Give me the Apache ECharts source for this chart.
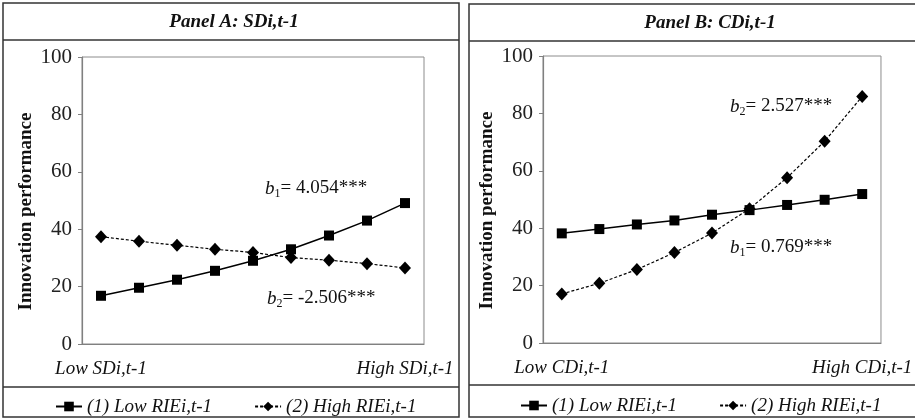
<!DOCTYPE html>
<html>
<head>
<meta charset="utf-8">
<script src="https://cdn.jsdelivr.net/npm/echarts@6/dist/echarts.min.js"></script>
<style>
  html, body { margin: 0; padding: 0; background: #fff; }
  #chart { width: 915px; height: 419px; }
</style>
</head>
<body>
<div id="chart"></div>
<script>
// x categories (only ends are labelled)
let catsA = ['Low SDi,t-1', '', '', '', '', '', '', '', 'High SDi,t-1'];
let catsB = ['Low CDi,t-1', '', '', '', '', '', '', '', 'High CDi,t-1'];

// Panel A values
let lowA = [16.8, 19.6, 22.4, 25.5, 29.0, 33.0, 37.8, 43.0, 49.1];
let highA = [37.4, 35.8, 34.4, 33.0, 31.9, 30.1, 29.2, 28.0, 26.5];

// Panel B values
let lowB = [38.2, 39.7, 41.3, 42.7, 44.7, 46.3, 48.1, 49.9, 51.9];
let highB = [17.1, 20.8, 25.6, 31.5, 38.3, 46.8, 57.6, 70.3, 85.9];

let yTicks = [0, 20, 40, 60, 80, 100];

let nameLow = '(1) Low RIEi,t-1';
let nameHigh = '(2) High RIEi,t-1';

let serif = '"Liberation Serif", "DejaVu Serif", serif';

let myChart = echarts.init(document.getElementById('chart'), null, { renderer: 'canvas' });

function makeX(idx, cats) {
    return {
        type: 'category',
        gridIndex: idx,
        data: cats,
        boundaryGap: true,
        axisLine: { lineStyle: { color: '#808080', width: 1.2 } },
        axisTick: { show: false },
        splitLine: { show: false },
        axisLabel: {
            interval: 0,
            margin: 15,
            color: '#111',
            fontFamily: serif,
            fontStyle: 'italic',
            fontSize: 19
        }
    };
}

function makeY(idx) {
    return {
        type: 'value',
        gridIndex: idx,
        min: yTicks[0],
        max: yTicks[yTicks.length - 1],
        interval: yTicks[1] - yTicks[0],
        name: 'Innovation performance',
        nameLocation: 'middle',
        nameGap: 46,
        nameTextStyle: {
            color: '#111',
            fontFamily: serif,
            fontWeight: 'bold',
            fontSize: 19,
            padding: [0, 22, 0, 0]   // nudges the rotated name a little lower
        },
        axisLine: { show: true, lineStyle: { color: '#808080', width: 1.2 } },
        axisTick: { show: true, length: 4, lineStyle: { color: '#808080' } },
        splitLine: { show: false },
        axisLabel: {
            margin: 10,
            color: '#222',
            fontFamily: serif,
            fontSize: 21
        }
    };
}

function lowSeries(idx, data) {
    return {
        name: nameLow,
        type: 'line',
        xAxisIndex: idx,
        yAxisIndex: idx,
        data: data,
        symbol: 'rect',
        symbolSize: 10,
        color: '#000',
        lineStyle: { color: '#000', width: 1.5, type: 'solid' },
        itemStyle: { color: '#000' }
    };
}

function highSeries(idx, data) {
    return {
        name: nameHigh,
        type: 'line',
        xAxisIndex: idx,
        yAxisIndex: idx,
        data: data,
        symbol: 'diamond',
        symbolSize: [12, 13],
        color: '#000',
        lineStyle: { color: '#000', width: 1.2, type: [3, 2] },
        itemStyle: { color: '#000' }
    };
}

function legendAt(left, top) {
    return {
        left: left,
        top: top,
        itemWidth: 26,
        itemHeight: 12,
        itemGap: 42,
        data: [nameLow, nameHigh],
        selectedMode: false,
        textStyle: {
            color: '#111',
            fontFamily: serif,
            fontStyle: 'italic',
            fontSize: 19
        }
    };
}

// b-coefficient text with subscript
function bText(sub, rest, left, top) {
    return {
        type: 'text',
        left: left,
        top: top,
        style: {
            text: '{b|b}{s|' + sub + '}{n|= ' + rest + '}',
            rich: {
                b: { fontFamily: serif, fontStyle: 'italic', fontSize: 19, lineHeight: 22, fill: '#111' },
                s: { fontFamily: serif, fontSize: 12, lineHeight: 22, verticalAlign: 'bottom', fill: '#111', padding: [7, 0, 0, 0] },
                n: { fontFamily: serif, fontSize: 19, lineHeight: 22, fill: '#111' }
            }
        }
    };
}

function boxLine(x1, y1, x2, y2) {
    return {
        type: 'line',
        shape: { x1: x1, y1: y1, x2: x2, y2: y2 },
        style: { stroke: '#333', lineWidth: 1.5 },
        silent: true
    };
}

function titleText(text, x, y) {
    return {
        type: 'text',
        style: { text: text, x: x, y: y, align: 'center', verticalAlign: 'middle', fontFamily: serif, fontStyle: 'italic', fontWeight: 'bold', fontSize: 19, fill: '#111' }
    };
}

let option = {
    backgroundColor: '#fff',
    animation: false,
    grid: [
        { left: 82, top: 57, width: 342, height: 287, show: true, borderColor: '#8c8c8c', borderWidth: 1 },
        { left: 543, top: 56, width: 344, height: 287, show: true, borderColor: '#8c8c8c', borderWidth: 1 }
    ],
    legend: [legendAt(50, 392), legendAt(515, 391)],
    xAxis: [makeX(0, catsA), makeX(1, catsB)],
    yAxis: [makeY(0), makeY(1)],
    series: [
        lowSeries(0, lowA),
        highSeries(0, highA),
        lowSeries(1, lowB),
        highSeries(1, highB)
    ],
    graphic: [
        // panel A frame
        { type: 'rect', shape: { x: 3, y: 3, width: 456, height: 414 }, style: { fill: 'none', stroke: '#333', lineWidth: 1.5 }, silent: true },
        boxLine(3, 40, 459, 40),
        boxLine(3, 387, 459, 387),
        // panel B frame (right edge runs past the picture)
        { type: 'rect', shape: { x: 469, y: 4, width: 520, height: 413 }, style: { fill: 'none', stroke: '#333', lineWidth: 1.5 }, silent: true },
        boxLine(469, 41, 915, 41),
        boxLine(469, 385, 915, 385),
        titleText('Panel A: SDi,t-1', 234, 22),
        titleText('Panel B: CDi,t-1', 710, 23),
        bText('1', '4.054***', 265, 179),
        bText('2', '-2.506***', 267, 289),
        bText('2', '2.527***', 730, 97),
        bText('1', '0.769***', 730, 238)
    ]
};

myChart.setOption(option);
</script>
</body>
</html>
